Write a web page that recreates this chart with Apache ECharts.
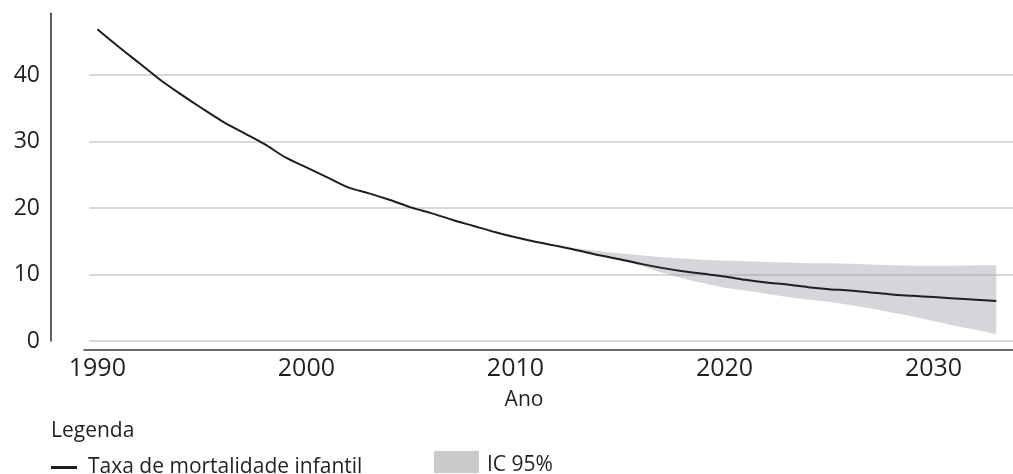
<!DOCTYPE html>
<html>
<head>
<meta charset="utf-8">
<script src="https://cdn.jsdelivr.net/npm/echarts@6/dist/echarts.min.js"></script>
<style>
  html, body { margin: 0; padding: 0; background: #ffffff; }
  #chart { width: 1013px; height: 474px; }
</style>
</head>
<body>
<div id="chart"></div>
<script>
// Infant mortality rate per year, observed and projected
const years = [1990, 1991, 1992, 1993, 1994, 1995, 1996, 1997, 1998, 1999,
               2000, 2001, 2002, 2003, 2004, 2005, 2006, 2007, 2008, 2009,
               2010, 2011, 2012, 2013, 2014, 2015, 2016, 2017, 2018, 2019,
               2020, 2021, 2022, 2023, 2024, 2025, 2026, 2027, 2028, 2029,
               2030, 2031, 2032, 2033];
const mortalityRate = [46.9, 44.3, 41.8, 39.3, 37.1, 35.0, 33.0, 31.3, 29.6, 27.6,
                       26.1, 24.6, 23.1, 22.2, 21.2, 20.1, 19.2, 18.2, 17.3, 16.4,
                       15.6, 14.9, 14.3, 13.6, 12.9, 12.3, 11.6, 11.0, 10.5, 10.1,
                       9.7, 9.2, 8.8, 8.5, 8.1, 7.8, 7.6, 7.3, 7.0, 6.8,
                       6.6, 6.4, 6.2, 6.0];

// 95% confidence interval of the projection
const ciYears = [2012, 2013, 2014, 2015, 2016, 2017, 2018, 2019, 2020, 2021, 2022,
                 2023, 2024, 2025, 2026, 2027, 2028, 2029, 2030, 2031, 2032, 2033];
const ciLower = [14.3, 13.5, 12.8, 12.1, 11.3, 10.3, 9.4, 8.7, 8.0, 7.6, 7.1,
                 6.6, 6.2, 5.9, 5.4, 4.9, 4.3, 3.7, 3.0, 2.3, 1.7, 1.0];
const ciUpper = [14.3, 13.9, 13.5, 13.2, 12.9, 12.6, 12.4, 12.2, 12.1, 12.0, 11.9,
                 11.8, 11.7, 11.7, 11.6, 11.5, 11.4, 11.3, 11.3, 11.3, 11.4, 11.4];

// Axis tick labels
const yearTicks = [1990, 2000, 2010, 2020, 2030];
const rateTicks = [0, 10, 20, 30, 40];

const seriesRate = 'Taxa de mortalidade infantil';
const seriesCI = 'IC 95%';
const axisTitle = 'Ano';
const legendTitle = 'Legenda';

const FONT = '"Open Sans", "Noto Sans", sans-serif';
const INK = '#231f20';
const GRID_GRAY = '#d9d9d9';
const BAND_FILL = 'rgba(150,153,160,0.4)';

// Legend swatch for the band: a box that sits in the upper part of its slot,
// so the label beside it lines up with the other legend entry
const BAND_SWATCH = 'path://M0,0H45V22H0Z M0,28';

const chart = echarts.init(document.getElementById('chart'), null, { renderer: 'canvas' });

const ratePoints = years.map((y, i) => [y, mortalityRate[i]]);
const ciRows = ciYears.map((y, i) => [y, ciLower[i], ciUpper[i]]);

// The confidence band is one polygon: upper edge forward, lower edge back
function renderBand(params, api) {
  if (params.dataIndex !== 0) return null;
  const upper = ciRows.map(r => api.coord([r[0], r[2]]));
  const lower = ciRows.map(r => api.coord([r[0], r[1]])).reverse();
  return {
    type: 'polygon',
    shape: { points: upper.concat(lower) },
    style: { fill: BAND_FILL, stroke: null },
    silent: true
  };
}

const option = {
  animation: false,
  backgroundColor: '#ffffff',
  textStyle: { fontFamily: FONT, color: INK },
  grid: [
    { left: 89, right: 0, top: 13.2, bottom: 133, outerBoundsMode: 'none' },
    { left: 84, right: 0, top: 13.2, bottom: 124, outerBoundsMode: 'none' }
  ],
  xAxis: [
    {
      type: 'value', gridIndex: 0, min: 1989.6, max: 2033.8,
      offset: 9,
      axisLine: { show: false },
      axisTick: { show: false },
      splitLine: { show: false },
      axisLabel: {
        customValues: yearTicks,
        fontFamily: FONT, fontSize: 25, color: INK, margin: 6,
        formatter: v => String(v)
      }
    },
    {
      type: 'value', gridIndex: 1, min: 0, max: 1,
      axisLine: { show: true, onZero: false, lineStyle: { color: '#3a3a3a', width: 1.5 } },
      axisTick: { show: false },
      axisLabel: { show: false },
      splitLine: { show: false }
    }
  ],
  yAxis: [
    {
      type: 'value', gridIndex: 0, min: 0, max: 49.3, interval: 10,
      offset: 38,
      axisLine: { show: true, onZero: false, lineStyle: { color: '#2a2a2a', width: 1.5 } },
      axisTick: { show: false, customValues: rateTicks },
      axisLabel: {
        customValues: rateTicks,
        fontFamily: FONT, fontSize: 23, color: INK, margin: 11
      },
      splitLine: {
        show: true,
        lineStyle: {
          width: 2,
          color: [GRID_GRAY, GRID_GRAY, GRID_GRAY, GRID_GRAY, GRID_GRAY, 'rgba(0,0,0,0)']
        }
      }
    },
    {
      type: 'value', gridIndex: 1, min: 0, max: 1, show: false
    }
  ],
  legend: [
    {
      data: [seriesRate],
      left: 46, top: 452,
      icon: 'rect', itemWidth: 26, itemHeight: 3,
      selectedMode: false,
      itemStyle: { borderWidth: 0 },
      textStyle: { fontFamily: FONT, fontSize: 21, color: INK, padding: [0, 0, 0, 6] }
    },
    {
      data: [{ name: seriesCI, itemStyle: { color: '#c9cacc', borderWidth: 0 } }],
      left: 429, top: 446,
      icon: BAND_SWATCH, itemWidth: 45, itemHeight: 28,
      selectedMode: false,
      textStyle: { fontFamily: FONT, fontSize: 21, color: INK, padding: [0, 0, 0, 3] }
    }
  ],
  graphic: [
    {
      type: 'text', x: 524, y: 400,
      style: {
        text: axisTitle, fill: INK, font: '21px ' + FONT,
        align: 'center', verticalAlign: 'middle',
        textAlign: 'center', textVerticalAlign: 'middle'
      }
    },
    {
      type: 'text', x: 51, y: 431,
      style: {
        text: legendTitle, fill: INK, font: '21px ' + FONT,
        align: 'left', verticalAlign: 'middle',
        textAlign: 'left', textVerticalAlign: 'middle'
      }
    }
  ],
  series: [
    {
      name: seriesCI, type: 'custom', xAxisIndex: 0, yAxisIndex: 0,
      data: ciRows, renderItem: renderBand, silent: true,
      color: '#c9cacc',
      encode: { x: 0, y: [1, 2] },
      z: 1
    },
    {
      name: seriesRate, type: 'line', xAxisIndex: 0, yAxisIndex: 0,
      data: ratePoints, showSymbol: false, silent: true, smooth: 0.3,
      color: '#1e1e1e',
      lineStyle: { color: '#1e1e1e', width: 2 },
      z: 3
    }
  ]
};

chart.setOption(option);
</script>
</body>
</html>
